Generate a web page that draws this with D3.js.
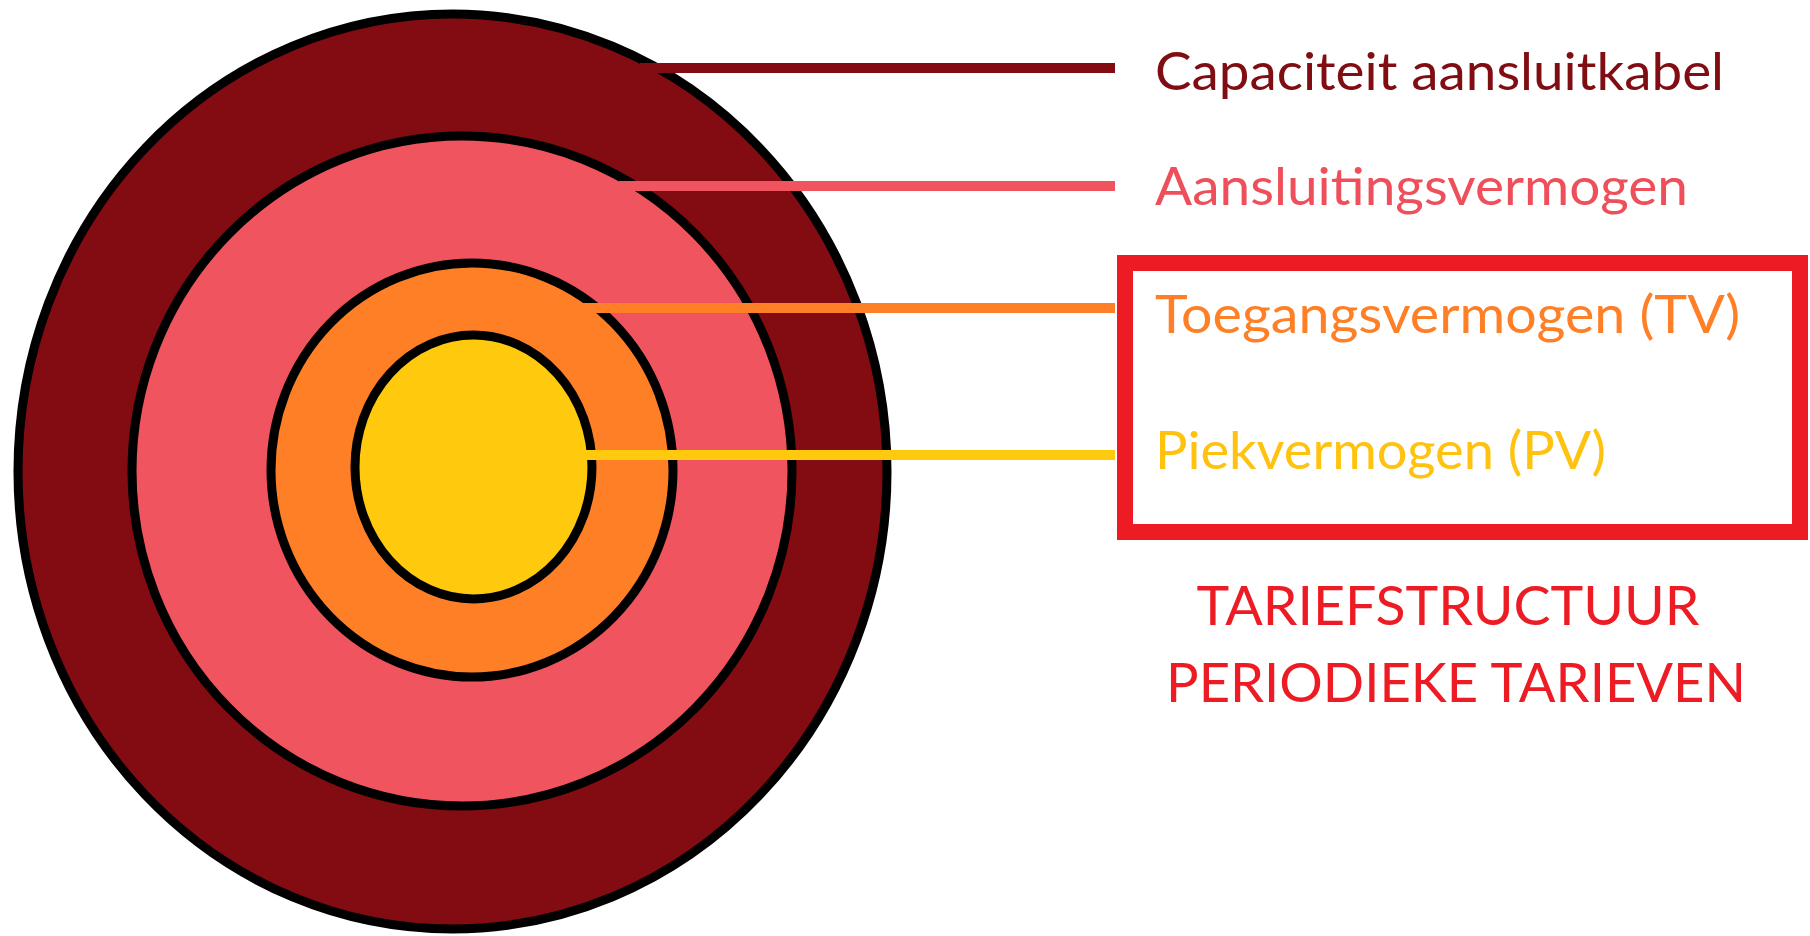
<!DOCTYPE html>
<html>
<head>
<meta charset="utf-8">
<script src="https://cdn.jsdelivr.net/npm/d3@7"></script>
<style>
  html, body { margin: 0; padding: 0; background: #ffffff; }
  svg { display: block; }
</style>
</head>
<body>
<svg id="chart" width="1810" height="936"></svg>
<script>
// ---- data ----
const categories = ["Capaciteit aansluitkabel", "Aansluitingsvermogen", "Toegangsvermogen (TV)", "Piekvermogen (PV)"];
const ringSizeX = [100, 75.95, 46.26, 27.27];     // relative horizontal radius
const ringSizeY = [100, 73.22, 45.25, 28.85];     // relative vertical radius
const ringShiftX = [0, 2.19, 4.49, 4.83];          // centre offset (relative units)
const ringShiftY = [0, -0.11, -0.33, -0.98];
const ringColors = ["#820c12", "#f0545e", "#fe7f25", "#ffc90e"];
const labelColors = ["#7f0d12", "#ee4f5a", "#ff7f27", "#ffc20e"];
const labelLineY = [68, 186, 308, 455];
const labelBaseline = [90, 205, 333, 469];
const labelWidth = [569, 533, 585, 451];
const boxedCategories = ["Toegangsvermogen (TV)", "Piekvermogen (PV)"];
const captionLines = ["TARIEFSTRUCTUUR", "PERIODIEKE TARIEVEN"];
const captionBaseline = [625, 702];
const captionCenter = [1448, 1456];
const captionWidth = [503, 580];

// ---- layout ----
const cx0 = 452.5, cy0 = 471.5;
const sx = d3.scaleLinear().domain([0, 100]).range([0, 434.5]);
const sy = d3.scaleLinear().domain([0, 100]).range([0, 457.5]);
const strokeW = 9;
const lineEndX = 1115;
const labelX = 1155;
const fontFamily = "Lato, 'Open Sans', sans-serif";

const svg = d3.select("#chart");

const rings = categories.map((c, i) => ({
  name: c,
  cx: cx0 + sx(ringShiftX[i]),
  cy: cy0 + sy(ringShiftY[i]),
  rx: sx(ringSizeX[i]),
  ry: sy(ringSizeY[i]),
  fill: ringColors[i],
  lineY: labelLineY[i],
  labelColor: labelColors[i],
  baseline: labelBaseline[i],
  width: labelWidth[i]
}));

svg.append("g").selectAll("ellipse")
  .data(rings)
  .join("ellipse")
  .attr("cx", d => d.cx)
  .attr("cy", d => d.cy)
  .attr("rx", d => d.rx)
  .attr("ry", d => d.ry)
  .attr("fill", d => d.fill)
  .attr("stroke", "#000")
  .attr("stroke-width", strokeW);

// leader lines start just inside the ring's stroke at the label's height
function edgeX(d) {
  const rx = d.rx - strokeW / 2, ry = d.ry - strokeW / 2;
  const t = Math.min(1, Math.abs(d.lineY - d.cy) / ry);
  return d.cx + rx * Math.sqrt(1 - t * t) - 8;
}

svg.append("g").selectAll("line")
  .data(rings)
  .join("line")
  .attr("x1", d => edgeX(d))
  .attr("x2", lineEndX)
  .attr("y1", d => d.lineY)
  .attr("y2", d => d.lineY)
  .attr("stroke", d => d.fill)
  .attr("stroke-width", 10);

function fitText(sel, width) {
  sel.each(function(d, i) {
    const w = typeof width === "function" ? width(d, i) : width;
    d3.select(this).attr("textLength", w).attr("lengthAdjust", "spacingAndGlyphs");
  });
}

svg.append("g").selectAll("text")
  .data(rings)
  .join("text")
  .attr("x", labelX)
  .attr("y", d => d.baseline)
  .attr("fill", d => d.labelColor)
  .attr("font-family", fontFamily)
  .attr("font-size", 52)
  .text(d => d.name)
  .call(fitText, d => d.width);

// box around the periodic-tariff components
svg.append("rect")
  .attr("x", 1125)
  .attr("y", 263)
  .attr("width", 675)
  .attr("height", 269)
  .attr("fill", "none")
  .attr("stroke", "#ed1c24")
  .attr("stroke-width", 16)
  .datum(boxedCategories);

svg.append("g").selectAll("text")
  .data(captionLines)
  .join("text")
  .attr("x", (d, i) => captionCenter[i] - captionWidth[i] / 2)
  .attr("y", (d, i) => captionBaseline[i])
  .attr("fill", "#ed1c24")
  .attr("font-family", fontFamily)
  .attr("font-size", 54)
  .text(d => d)
  .call(fitText, (d, i) => captionWidth[i]);
</script>
</body>
</html>
